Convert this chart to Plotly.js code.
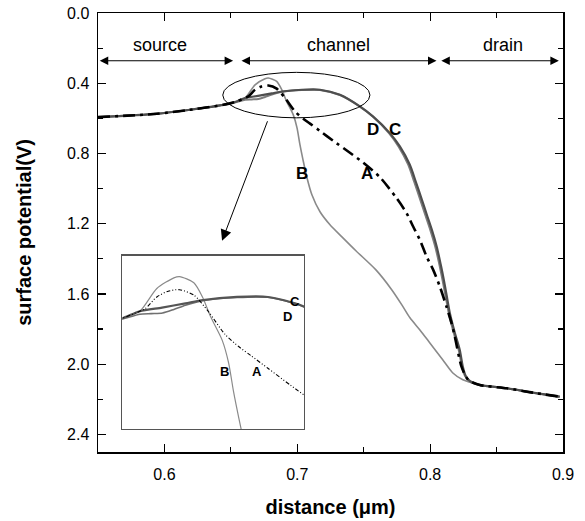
<!DOCTYPE html>
<html>
<head>
<meta charset="utf-8">
<script src="https://cdn.plot.ly/plotly-3.0.1.min.js"></script>
<style>html,body{margin:0;padding:0;background:#fff;}#chart{width:585px;height:521px;}</style>
</head>
<body>
<div id="chart"></div>
<script>
// ---- data (distance in µm, surface potential in V) ----
const xA = [0.550,0.5943,0.6193,0.6444,0.653,0.6607,0.6632,0.6682,0.6732,0.6782,0.6845,0.6908,0.6983,0.7045,0.7096,0.7171,0.7271,0.7396,0.7496,0.7622,0.7747,0.7823,0.7872,0.7923,0.7973,0.8023,0.8073,0.8123,0.8161,0.8186,0.8236,0.8286,0.8373,0.8576,0.8772,0.8975];
const vA = [0.593,0.574,0.551,0.523,0.507,0.484,0.475,0.437,0.418,0.413,0.431,0.484,0.561,0.602,0.630,0.672,0.728,0.796,0.852,0.935,1.054,1.140,1.216,1.292,1.387,1.463,1.558,1.672,1.766,1.843,2.014,2.089,2.118,2.137,2.162,2.185];

const xB = [0.550,0.5943,0.6193,0.6444,0.653,0.6607,0.6682,0.6757,0.6782,0.6845,0.6883,0.6920,0.6970,0.6998,0.7020,0.7043,0.7073,0.7110,0.7171,0.7246,0.7336,0.7441,0.7592,0.7712,0.7787,0.7848,0.7923,0.7998,0.8096,0.8171,0.8246,0.8321,0.8373,0.8576,0.8772,0.8975];
const vB = [0.593,0.574,0.551,0.523,0.507,0.484,0.409,0.374,0.370,0.390,0.437,0.504,0.580,0.654,0.750,0.836,0.938,1.035,1.132,1.206,1.275,1.354,1.463,1.577,1.662,1.736,1.805,1.879,1.976,2.050,2.089,2.108,2.118,2.137,2.162,2.185];

const xC = [0.550,0.5943,0.6193,0.6444,0.653,0.6607,0.6705,0.6808,0.6885,0.7035,0.7171,0.7321,0.7471,0.7569,0.7697,0.7772,0.7847,0.7892,0.7938,0.7975,0.8013,0.8050,0.8080,0.8103,0.8126,0.8148,0.8186,0.8223,0.8246,0.8268,0.8298,0.8373,0.8576,0.8772,0.8975];
const vC = [0.593,0.574,0.551,0.523,0.507,0.484,0.472,0.458,0.447,0.437,0.437,0.466,0.532,0.589,0.684,0.760,0.864,0.961,1.064,1.149,1.235,1.332,1.434,1.520,1.616,1.708,1.822,1.919,2.014,2.067,2.095,2.118,2.137,2.162,2.185];

const xD = [0.550,0.5943,0.6193,0.6444,0.653,0.6607,0.6657,0.6707,0.6757,0.6808,0.6885,0.7035,0.7171,0.7321,0.7471,0.7569,0.7690,0.7762,0.7835,0.7880,0.7926,0.7963,0.8001,0.8039,0.8070,0.8093,0.8117,0.8140,0.8178,0.8215,0.8240,0.8263,0.8295,0.8373,0.8576,0.8772,0.8975];
const vD = [0.593,0.574,0.551,0.523,0.510,0.494,0.492,0.490,0.478,0.464,0.449,0.439,0.438,0.467,0.533,0.590,0.684,0.760,0.864,0.961,1.064,1.149,1.235,1.332,1.434,1.520,1.616,1.708,1.822,1.919,2.014,2.067,2.095,2.118,2.137,2.162,2.185];

const xTicks = [0.6,0.7,0.8,0.9];
const xTickText = ['0.6','0.7','0.8','0.9'];
const yTicks = [0.0,0.4,0.8,1.2,1.6,2.0,2.4];
const yTickText = ['0.0','0.4','0.8','1.2','1.6','2.0','2.4'];

const regionNames = ['source','channel','drain'];
const regionStart = [0.5502,0.6569,0.8073];
const regionEnd   = [0.6517,0.8048,0.8969];
const regionLevel = 0.272;

const curveNames = ['A','B','C','D'];

// ---- traces ----
const FONT = 'Liberation Sans, Arial, sans-serif';
function mk(x,y,name,line,axes){
  line.shape = 'spline';
  line.smoothing = 0.7;
  const t = {x:x,y:y,name:name,mode:'lines',type:'scatter',line:line,hoverinfo:'skip',showlegend:false};
  if(axes){t.xaxis='x2';t.yaxis='y2';}
  return t;
}
const traces = [
  mk(xB,vB,'B',{color:'#8a8a8a',width:1.6}),
  mk(xD,vD,'D',{color:'#7c7c7c',width:2}),
  mk(xC,vC,'C',{color:'#4e4e4e',width:2.2}),
  mk(xA,vA,'A',{color:'#000',width:2.6,dash:'12px,5px,3px,5px'}),
  // inset (zoomed view of the ellipse region)
  mk(xB,vB,'B',{color:'#8a8a8a',width:1.2},true),
  mk(xD,vD,'D',{color:'#707070',width:1.6},true),
  mk(xC,vC,'C',{color:'#555',width:2.2},true),
  mk(xA,vA,'A',{color:'#000',width:1.1,dash:'4px,2px,1px,2px,1px,2px'},true)
];

// ---- annotations ----
const ann = [];
for(let i=0;i<regionNames.length;i++){
  ann.push({x:regionEnd[i],y:regionLevel,ax:regionStart[i],ay:regionLevel,xref:'x',yref:'y',axref:'x',ayref:'y',
    text:'',showarrow:true,arrowhead:2,startarrowhead:2,arrowside:'end+start',arrowsize:1.7,startarrowsize:1.7,arrowwidth:1,arrowcolor:'#000',standoff:0,startstandoff:0});
  ann.push({x:(regionStart[i]+regionEnd[i])/2 + (i===2?0.003:(i===0?-0.004:0)),y:regionLevel,xref:'x',yref:'y',text:regionNames[i],showarrow:false,
    yanchor:'bottom',yshift:4,font:{family:FONT,size:18,color:'#000'}});
}
// curve labels, main plot
const mainLab = {A:[0.7526,0.912],B:[0.7033,0.912],C:[0.7735,0.665],D:[0.7567,0.665]};
const insetLab = {A:[0.7122,0.683],B:[0.6982,0.683],C:[0.7290,0.452],D:[0.7258,0.502]};
curveNames.forEach(n=>{
  ann.push({x:mainLab[n][0],y:mainLab[n][1],xref:'x',yref:'y',text:'<b>'+n+'</b>',showarrow:false,font:{family:FONT,size:17,color:'#000'}});
  ann.push({x:insetLab[n][0],y:insetLab[n][1],xref:'x2',yref:'y2',text:'<b>'+n+'</b>',showarrow:false,font:{family:FONT,size:13,color:'#000'}});
});
// pointer arrow from ellipse to inset
ann.push({x:0.6434,y:1.297,ax:0.678,ay:0.608,xref:'x',yref:'y',axref:'x',ayref:'y',text:'',showarrow:true,
  arrowhead:2,arrowsize:2.2,arrowwidth:1,arrowcolor:'#000',standoff:0});

const layout = {
  width:585,height:521,autosize:false,
  margin:{l:98,r:22,t:13,b:69},
  paper_bgcolor:'#fff',plot_bgcolor:'#fff',
  font:{family:FONT,color:'#000'},
  showlegend:false,
  xaxis:{range:[0.55,0.9],tickmode:'array',tickvals:xTicks,ticktext:xTickText,ticks:'inside',ticklen:8,tickwidth:1.2,tickcolor:'#000',
    minor:{dtick:0.05,tick0:0.55,ticks:'inside',ticklen:5,tickwidth:1.2,tickcolor:'#000'},
    showline:true,linecolor:'#000',linewidth:1.5,mirror:'ticks',showgrid:false,zeroline:false,
    tickfont:{family:FONT,size:16,color:'#000'},ticklabelstandoff:7,
    title:{text:'<b>distance (μm)</b>',font:{family:FONT,size:20,color:'#000'},standoff:18}},
  yaxis:{range:[2.5,0],tickmode:'array',tickvals:yTicks,ticktext:yTickText,ticks:'inside',ticklen:8,tickwidth:1.2,tickcolor:'#000',
    minor:{dtick:0.2,tick0:0,ticks:'inside',ticklen:5,tickwidth:1.2,tickcolor:'#000'},
    showline:true,linecolor:'#000',linewidth:1.5,mirror:'ticks',showgrid:false,zeroline:false,
    tickfont:{family:FONT,size:16,color:'#000'},ticklabelstandoff:4,
    title:{text:'<b>surface potential(V)</b>',font:{family:FONT,size:20,color:'#000'},standoff:30}},
  xaxis2:{domain:[0.0523,0.443],anchor:'y2',range:[0.653,0.733],showticklabels:false,ticks:'',showgrid:false,zeroline:false,
    showline:true,mirror:true,linecolor:'#555',linewidth:1.5},
  yaxis2:{domain:[0.0524,0.4465],anchor:'x2',range:[0.872,0.302],showticklabels:false,ticks:'',showgrid:false,zeroline:false,
    showline:true,mirror:true,linecolor:'#555',linewidth:1.5},
  shapes:[{type:'circle',xref:'x',yref:'y',x0:0.6439,x1:0.7547,y0:0.338,y1:0.597,line:{color:'#000',width:1}}],
  annotations:ann
};
Plotly.newPlot('chart',traces,layout,{staticPlot:true,displayModeBar:false});
</script>
</body>
</html>
